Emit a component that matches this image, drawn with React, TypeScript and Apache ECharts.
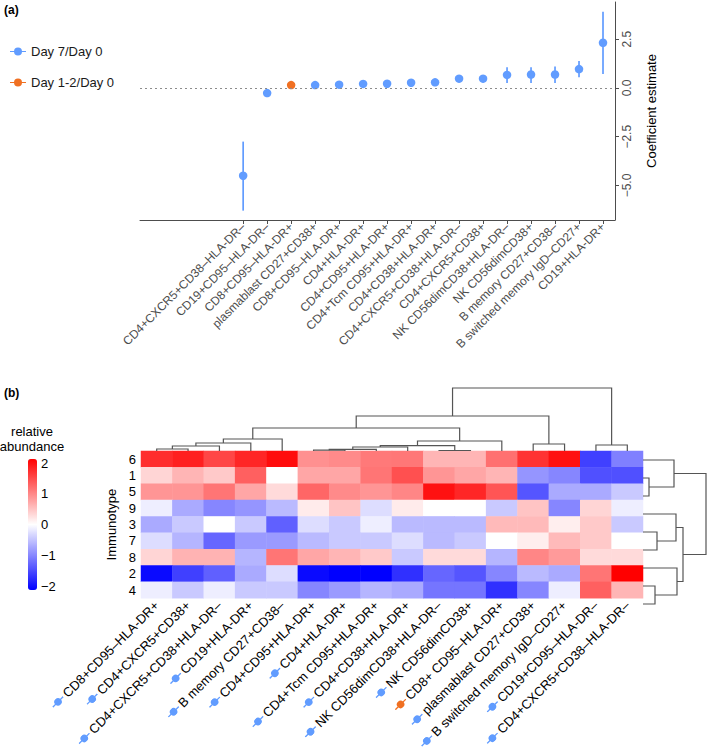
import React, { useEffect, useRef } from 'react';
import * as echarts from 'echarts';

const FONT = '"Liberation Sans", Arial, Helvetica, sans-serif';
const BLUE = '#619CFF';
const ORANGE = '#F07022';
const AXIS_GREY = '#4d4d4d';
const DENDRO = '#555555';

// ---------- panel (a) ----------
const aCategories = [
  'CD4+CXCR5+CD38–HLA-DR–',
  'CD19+CD95–HLA-DR–',
  'CD8+CD95–HLA-DR+',
  'plasmablast CD27+CD38+',
  'CD8+CD95–HLA-DR+',
  'CD4+HLA-DR+',
  'CD4+CD95+HLA-DR+',
  'CD4+Tcm CD95+HLA-DR+',
  'CD4+CD38+HLA-DR+',
  'CD4+CXCR5+CD38+HLA-DR–',
  'CD4+CXCR5+CD38+',
  'NK CD56dimCD38+HLA-DR–',
  'NK CD56dimCD38+',
  'B memory CD27+CD38–',
  'B switched memory IgD–CD27+',
  'CD19+HLA-DR+',
];
const aGroup = [0, 0, 1, 0, 0, 0, 0, 0, 0, 0, 0, 0, 0, 0, 0, 0]; // 0 = Day 7/Day 0, 1 = Day 1-2/Day 0
const aGroupNames = ['Day 7/Day 0', 'Day 1-2/Day 0'];
const aEstimate = [-4.5, -0.26, 0.15, 0.15, 0.17, 0.21, 0.22, 0.27, 0.29, 0.48, 0.48, 0.67, 0.69, 0.69, 0.97, 2.32];
const aLower = [-6.29, -0.38, 0.08, 0.08, 0.1, 0.14, 0.15, 0.2, 0.22, 0.3, 0.3, 0.26, 0.26, 0.26, 0.55, 0.72];
const aUpper = [-2.75, -0.14, 0.22, 0.22, 0.24, 0.28, 0.29, 0.34, 0.36, 0.66, 0.66, 1.06, 1.06, 1.1, 1.38, 3.91];
const aYTicks = [-5, -2.5, 0, 2.5];

// ---------- panel (b) ----------
const hmColumns = [
  'CD8+CD95–HLA-DR+',
  'CD4+CXCR5+CD38+',
  'CD4+CXCR5+CD38+HLA-DR–',
  'CD19+HLA-DR+',
  'B memory CD27+CD38–',
  'CD4+CD95+HLA-DR+',
  'CD4+HLA-DR+',
  'CD4+Tcm CD95+HLA-DR+',
  'CD4+CD38+HLA-DR+',
  'NK CD56dimCD38+HLA-DR–',
  'NK CD56dimCD38+',
  'CD8+ CD95–HLA-DR+',
  'plasmablast CD27+CD38+',
  'B switched memory IgD–CD27+',
  'CD19+CD95–HLA-DR–',
  'CD4+CXCR5+CD38–HLA-DR–',
];
const hmColumnGroup = [0, 0, 0, 0, 0, 0, 0, 0, 0, 0, 0, 1, 0, 0, 0, 0];
const hmRows = ['6', '1', '5', '9', '3', '7', '8', '2', '4'];
const hmValues = [
  [1.65, 1.75, 1.45, 1.7, 1.9, 0.87, 0.92, 1.05, 1.07, 0.58, 0.58, 1.12, 1.6, 1.87, -1.5, -1.0],
  [0.33, 0.58, 0.42, 1.25, 0.0, 0.7, 0.7, 1.08, 1.37, 0.83, 0.7, 0.58, -0.83, -0.95, -1.37, -1.37],
  [0.83, 0.83, 1.08, 0.7, 0.29, 1.2, 0.92, 0.83, 0.95, 1.87, 1.7, 1.33, -1.33, -0.67, -0.67, -0.42],
  [-0.13, -0.67, -0.95, -0.83, -0.54, 0.16, 0.46, -0.27, 0.16, 0.0, 0.0, -0.42, 0.46, -0.95, 0.33, -0.13],
  [-0.67, -0.42, 0.0, -0.42, -1.25, -0.27, -0.42, -0.13, -0.54, -0.54, -0.54, 0.54, 0.54, 0.13, 0.42, -0.42],
  [-0.27, -0.58, -1.2, -0.79, -0.79, -0.54, -0.42, -0.42, -0.27, -0.54, -0.42, 0.0, 0.13, 0.54, 0.42, 0.0],
  [0.33, 0.6, 0.6, -0.58, 1.08, 0.7, 0.58, 0.42, -0.42, 0.29, 0.29, -0.58, 0.95, 0.79, 0.29, 0.29],
  [-1.92, -1.5, -1.25, -0.67, -0.27, -1.92, -2.0, -2.0, -1.62, -1.2, -1.33, -0.95, -0.54, -0.67, 1.08, 2.0],
  [-0.13, -0.42, -0.13, -0.42, -0.42, -0.95, -0.79, -0.58, -0.67, -1.08, -1.08, -1.62, -0.95, -0.13, 1.25, 0.58],
];
// hclust-style merges: negative = leaf (1-based position), positive = earlier merge; third = height
const colMerges = [
  [-1, -2, 2], [1, -3, 5], [2, -4, 8], [3, -5, 12],
  [-6, -7, 0.8], [5, -8, 1.7], [6, -9, 4], [-10, -11, 0.5], [7, 8, 5.3], [9, -12, 10],
  [4, 10, 23], [-13, -14, 7], [11, 12, 35], [-15, -16, 6], [13, 14, 63],
];
const rowMerges = [
  [-2, -3, 6], [-1, 1, 31], [-5, -6, 14], [-4, 3, 33], [-8, -9, 12], [-7, 5, 34], [4, 6, 40], [2, 7, 63],
];
const cbMin = -2;
const cbMax = 2;

function buildDendro(merges: number[][]) {
  const pos: number[] = [];
  const ht: number[] = [];
  return merges.map(([a, b, h], i) => {
    const pa = a < 0 ? -a - 1 : pos[a - 1];
    const ha = a < 0 ? 0 : ht[a - 1];
    const pb = b < 0 ? -b - 1 : pos[b - 1];
    const hb = b < 0 ? 0 : ht[b - 1];
    pos[i] = (pa + pb) / 2;
    ht[i] = h;
    return [pa, pb, h, ha, hb];
  });
}

function iconUrl(color: string) {
  const svg = `<svg xmlns="http://www.w3.org/2000/svg" width="30" height="16" viewBox="0 0 30 16"><line x1="0" y1="8" x2="30" y2="8" stroke="${color}" stroke-width="2.6"/><circle cx="15" cy="8" r="7.5" fill="${color}"/></svg>`;
  return 'data:image/svg+xml;charset=utf-8,' + encodeURIComponent(svg);
}

const minus = (v: number, d: number) => (v < 0 ? '−' : '') + Math.abs(v).toFixed(d);
const LEGEND_ICON = 'path://M0,3.4 L16,3.4 L16,4.6 L0,4.6 Z M4,4 A4,4 0 1 1 12,4 A4,4 0 1 1 4,4 Z';

export default function App() {
  const ref = useRef<HTMLDivElement>(null);
  useEffect(() => {
    document.body.style.margin = '0';
    const chart = echarts.init(ref.current!, null, { renderer: 'svg' });
    const xTickValues = aCategories.map((_, i) => i + 1);
    const seriesPoints = aGroupNames.map((name, g) => ({
      name,
      type: 'scatter',
      xAxisIndex: 0,
      yAxisIndex: 0,
      symbol: 'circle',
      symbolSize: 8.5,
      z: 3,
      itemStyle: { color: g === 0 ? BLUE : ORANGE, opacity: 1 },
      emphasis: { disabled: true },
      data: aEstimate.map((v, i) => (aGroup[i] === g ? [i + 1, v] : null)).filter((d) => d !== null),
      markLine:
        g === 0
          ? {
              silent: true,
              symbol: ['none', 'none'],
              label: { show: false },
              lineStyle: { color: '#8c8c8c', type: [2, 3], width: 1 },
              data: [{ yAxis: 0 }],
            }
          : undefined,
    }));
    const colD = buildDendro(colMerges);
    const rowD = buildDendro(rowMerges);
    const heatData: number[][] = [];
    hmRows.forEach((_, r) => hmColumns.forEach((_, c) => heatData.push([c, r, hmValues[r][c]])));

    const option: any = {
      animation: false,
      textStyle: { fontFamily: FONT },
      grid: [
        { left: 140, top: 2, width: 475, height: 218 },
        { left: 141, top: 451, width: 502, height: 162 },
        { left: 141, top: 388, width: 502, height: 63 },
        { left: 643, top: 451, width: 63, height: 162 },
        { left: 28, top: 463, width: 9, height: 123 },
      ],
      legend: {
        orient: 'vertical',
        left: 10,
        top: 45,
        padding: 0,
        itemGap: 18,
        itemWidth: 16,
        itemHeight: 8,
        selectedMode: false,
        textStyle: { fontSize: 13, color: '#1a1a1a', fontFamily: FONT },
        data: aGroupNames.map((n) => ({ name: n, icon: LEGEND_ICON })),
      },
      xAxis: [
        {
          type: 'value',
          gridIndex: 0,
          min: -3.3,
          max: 16.5,
          axisLine: { show: true, onZero: false, lineStyle: { color: AXIS_GREY } },
          axisTick: { show: true, customValues: xTickValues, length: 4, lineStyle: { color: AXIS_GREY } },
          axisLabel: {
            customValues: xTickValues,
            rotate: 45,
            fontSize: 12,
            color: AXIS_GREY,
            margin: 5,
            formatter: (v: number) => aCategories[Math.round(v) - 1] ?? '',
          },
          splitLine: { show: false },
        },
        {
          type: 'category',
          gridIndex: 1,
          data: hmColumns,
          axisLine: { show: false },
          axisTick: { show: false },
          splitArea: { show: false },
          axisLabel: {
            interval: 0,
            rotate: 45,
            margin: 5,
            formatter: (v: string, i: number) => `{${hmColumnGroup[i] === 1 ? 'o' : 'b'}|}{t|${v}}`,
            rich: {
              b: { width: 15, height: 8, backgroundColor: { image: iconUrl(BLUE) } },
              o: { width: 15, height: 8, backgroundColor: { image: iconUrl(ORANGE) } },
              t: { fontSize: 13, color: '#000', fontFamily: FONT, padding: [0, 0, 0, 2] },
            },
          },
        },
        { type: 'value', gridIndex: 2, min: -0.5, max: hmColumns.length - 0.5, show: false },
        { type: 'value', gridIndex: 3, min: 0, max: 63, show: false },
        { type: 'value', gridIndex: 4, min: 0, max: 1, show: false },
      ],
      yAxis: [
        {
          type: 'value',
          gridIndex: 0,
          position: 'right',
          min: -6.77,
          max: 4.41,
          name: 'Coefficient estimate',
          nameLocation: 'middle',
          nameRotate: 90,
          nameGap: 30,
          nameTextStyle: { fontSize: 13, color: '#000' },
          axisLine: { show: true, onZero: false, lineStyle: { color: AXIS_GREY } },
          axisTick: { show: true, customValues: aYTicks, length: 4, lineStyle: { color: AXIS_GREY } },
          axisLabel: {
            customValues: aYTicks,
            rotate: 90,
            fontSize: 12,
            color: AXIS_GREY,
            margin: 6,
            formatter: (v: number) => minus(v, 1),
          },
          splitLine: { show: false },
        },
        {
          type: 'category',
          gridIndex: 1,
          data: hmRows,
          inverse: true,
          name: 'Immunotype',
          nameLocation: 'middle',
          nameGap: 20,
          nameTextStyle: { fontSize: 13, color: '#000' },
          axisLine: { show: false },
          axisTick: { show: false },
          axisLabel: { interval: 0, fontSize: 13, color: '#000', margin: 5 },
        },
        { type: 'value', gridIndex: 2, min: 0, max: 63, show: false },
        { type: 'value', gridIndex: 3, min: -0.5, max: hmRows.length - 0.5, inverse: true, show: false },
        {
          type: 'value',
          gridIndex: 4,
          min: cbMin,
          max: cbMax,
          interval: 1,
          position: 'right',
          axisLine: { show: false },
          axisTick: { show: false },
          splitLine: { show: false },
          axisLabel: { fontSize: 13, color: '#000', margin: 4, formatter: (v: number) => minus(v, 0) },
        },
      ],
      visualMap: {
        type: 'continuous',
        seriesIndex: 3,
        min: cbMin,
        max: cbMax,
        calculable: false,
        hoverLink: false,
        orient: 'vertical',
        left: 28,
        top: 459,
        padding: 0,
        itemWidth: 9,
        itemHeight: 131,
        inRange: { color: ['#0000FF', '#FFFFFF', '#FF0000'] },
      },
      graphic: [
        { type: 'text', left: 4, top: 4, style: { text: '(a)', font: `bold 12px ${FONT}`, fill: '#000' } },
        { type: 'text', left: 4, top: 387, style: { text: '(b)', font: `bold 12px ${FONT}`, fill: '#000' } },
        {
          type: 'text',
          x: 32,
          y: 424,
          style: {
            text: 'relative\nabundance',
            font: `13px ${FONT}`,
            lineHeight: 15,
            fill: '#000',
            align: 'center',
            verticalAlign: 'top',
          },
        },
      ],
      series: [
        ...seriesPoints,
        {
          type: 'custom',
          name: 'errorbars',
          xAxisIndex: 0,
          yAxisIndex: 0,
          z: 2,
          silent: true,
          data: aEstimate.map((_, i) => [i + 1, aLower[i], aUpper[i], aGroup[i]]),
          renderItem: (params: any, api: any) => {
            const x = api.value(0);
            const p1 = api.coord([x, api.value(1)]);
            const p2 = api.coord([x, api.value(2)]);
            return {
              type: 'line',
              shape: { x1: p1[0], y1: p1[1], x2: p2[0], y2: p2[1] },
              style: { stroke: api.value(3) === 1 ? ORANGE : BLUE, lineWidth: 1.7 },
            };
          },
        },
        {
          type: 'heatmap',
          xAxisIndex: 1,
          yAxisIndex: 1,
          data: heatData,
          silent: true,
          itemStyle: { borderWidth: 0 },
          emphasis: { disabled: true },
        },
        {
          type: 'custom',
          xAxisIndex: 2,
          yAxisIndex: 2,
          silent: true,
          data: colD,
          renderItem: (params: any, api: any) => {
            const xl = api.value(0), xr = api.value(1), h = api.value(2), hl = api.value(3), hr = api.value(4);
            const pts = [api.coord([xl, hl]), api.coord([xl, h]), api.coord([xr, h]), api.coord([xr, hr])];
            return { type: 'polyline', shape: { points: pts }, style: { stroke: DENDRO, lineWidth: 1.2, fill: null } };
          },
        },
        {
          type: 'custom',
          xAxisIndex: 3,
          yAxisIndex: 3,
          silent: true,
          data: rowD,
          renderItem: (params: any, api: any) => {
            const yl = api.value(0), yr = api.value(1), h = api.value(2), hl = api.value(3), hr = api.value(4);
            const pts = [api.coord([hl, yl]), api.coord([h, yl]), api.coord([h, yr]), api.coord([hr, yr])];
            return { type: 'polyline', shape: { points: pts }, style: { stroke: DENDRO, lineWidth: 1.2, fill: null } };
          },
        },
        { type: 'scatter', xAxisIndex: 4, yAxisIndex: 4, data: [] },
      ],
    };
    chart.setOption(option);
    return () => chart.dispose();
  }, []);
  return <div ref={ref} style={{ width: 709, height: 753 }} />;
}
